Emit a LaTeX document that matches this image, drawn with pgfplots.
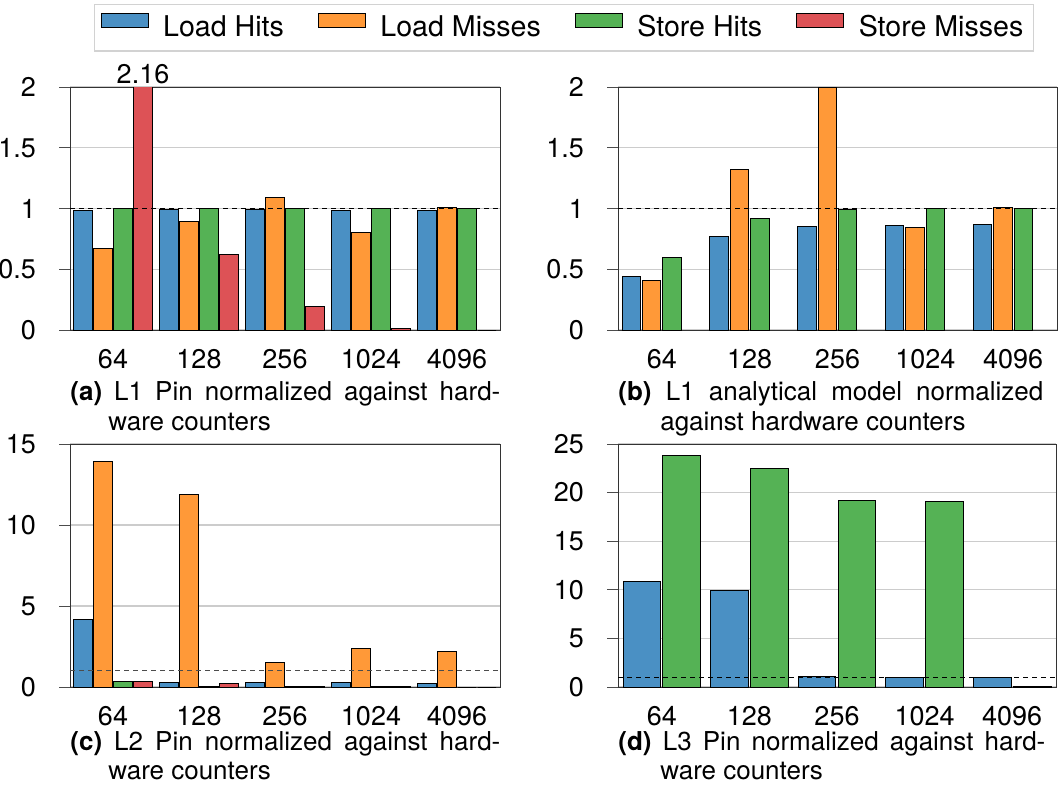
\documentclass[border=0pt]{standalone}
\usepackage{fontspec}
\setmainfont{TeX Gyre Heros}
\usepackage{pgfplots}
\pgfplotsset{compat=1.18}
\definecolor{cblue}{RGB}{74,144,196}
\definecolor{corange}{RGB}{255,153,56}
\definecolor{cgreen}{RGB}{85,178,85}
\definecolor{cred}{RGB}{221,82,86}
\newcommand{\fs}{\fontsize{13}{15.6}\selectfont}
\newcommand{\ts}{\fontsize{13.5}{16}\selectfont}
\pgfplotsset{
  mystyle/.style={
    ybar, scale only axis, height=121.5pt,
    ymin=0, xmin=-0.5, xmax=4.5, enlarge x limits=false, enlarge y limits=false,
    xtick={0,1,2,3,4}, xticklabels={64,128,256,1024,4096},
    axis line style={black!80, line width=0.5pt},
    ymajorgrids, grid style={gray!40, line width=0.6pt},
    ytick pos=left, xtick style={draw=none},
    ytick style={black!70, line width=0.5pt},
    major tick length=5.5pt, tick align=outside,
    tick label style={font=\ts},
    /pgf/number format/assume math mode=true,
    bar width=0.21,
    clip mode=individual,
    every axis plot/.append style={draw=black, line width=0.5pt},
    xticklabel style={yshift=-0.5pt},
    yticklabel style={xshift=-8pt},
  },
}
\begin{document}
\begin{tikzpicture}
\path[use as bounding box] (0,0) rectangle (532pt,-397pt);
% (a)
\begin{axis}[mystyle, at={(35pt,-165pt)}, anchor=south west, width=215pt,
  ymax=2, ytick={0,0.5,1,1.5,2},
  legend columns=4,
  legend image code/.code={\draw[#1] (0pt,0pt) rectangle (23.5pt,7pt); \path[draw=none, fill=none] (23.5pt,0pt) -- (29pt,0pt);},
  legend style={at={(1.1488,1.3416)}, anchor=north, draw=gray!35, line width=0.6pt,
    font=\fontsize{14.3}{17}\selectfont, inner xsep=3pt, inner ysep=3.5pt,
    /tikz/every even column/.append style={column sep=15pt}},
]
\addplot[fill=cblue, bar shift=-0.349] coordinates {(0,0.98) (1,0.99) (2,0.995) (3,0.98) (4,0.98)};
\addplot[fill=corange, bar shift=-0.116] coordinates {(0,0.67) (1,0.89) (2,1.09) (3,0.80) (4,1.005)};
\addplot[fill=cgreen, bar shift=0.116] coordinates {(0,1.0) (1,1.0) (2,1.0) (3,1.0) (4,1.0)};
\addplot[fill=cred, bar shift=0.349] coordinates {(0,2.16) (1,0.625) (2,0.19) (3,0.01) (4,0.0)};
\legend{Load Hits, Load Misses, Store Hits, Store Misses}
\draw[black, dash pattern=on 2.5pt off 2pt, line width=0.6pt] (axis cs:-0.5,1) -- (axis cs:4.5,1);
\node[anchor=south, inner sep=1.5pt, font=\ts] at (axis cs:0.349,2) {2.16};
\end{axis}
% (b)
\begin{axis}[mystyle, at={(309pt,-165pt)}, anchor=south west, width=219.5pt,
  ymax=2, ytick={0,0.5,1,1.5,2}]
\addplot[fill=cblue, bar shift=-0.349] coordinates {(0,0.44) (1,0.77) (2,0.85) (3,0.86) (4,0.87)};
\addplot[fill=corange, bar shift=-0.116] coordinates {(0,0.41) (1,1.32) (2,2.0) (3,0.84) (4,1.005)};
\addplot[fill=cgreen, bar shift=0.116] coordinates {(0,0.60) (1,0.92) (2,0.99) (3,1.0) (4,1.0)};
\draw[black, dash pattern=on 2.5pt off 2pt, line width=0.6pt] (axis cs:-0.5,1) -- (axis cs:4.5,1);
\end{axis}
% (c)
\begin{axis}[mystyle, at={(35pt,-343.5pt)}, anchor=south west, width=215pt,
  ymax=15, ytick={0,5,10,15}]
\addplot[fill=cblue, bar shift=-0.349] coordinates {(0,4.14) (1,0.29) (2,0.25) (3,0.25) (4,0.2)};
\addplot[fill=corange, bar shift=-0.116] coordinates {(0,13.9) (1,11.9) (2,1.5) (3,2.37) (4,2.22)};
\addplot[fill=cgreen, bar shift=0.116] coordinates {(0,0.33) (1,0.02) (2,0.01) (3,0.01) (4,0.0)};
\addplot[fill=cred, bar shift=0.349] coordinates {(0,0.37) (1,0.2) (2,0.01) (3,0.01) (4,0.0)};
\draw[black!70, dash pattern=on 2.5pt off 2pt, line width=0.6pt] (axis cs:-0.5,1) -- (axis cs:4.5,1);
\end{axis}
% (d)
\begin{axis}[mystyle, at={(309pt,-343.5pt)}, anchor=south west, width=219pt,
  ymax=25, ytick={0,5,10,15,20,25}, bar width=0.43]
\addplot[fill=cblue, bar shift=-0.228] coordinates {(0,10.9) (1,9.97) (2,1.13) (3,1.0) (4,0.93)};
\addplot[fill=cgreen, bar shift=0.228] coordinates {(0,23.8) (1,22.5) (2,19.2) (3,19.1) (4,0.1)};
\draw[black, dash pattern=on 2.5pt off 2pt, line width=0.6pt] (axis cs:-0.5,1) -- (axis cs:4.5,1);
\end{axis}
% captions
\node[anchor=base west, inner sep=0, font=\fs] at (35pt,-200pt) {\makebox[215pt][s]{\textbf{(a)} L1 Pin normalized against hard-}};
\node[anchor=base west, inner sep=0, font=\fs] at (54pt,-215pt) {ware counters};
\node[anchor=base west, inner sep=0, font=\fs] at (309pt,-200pt) {\makebox[212.5pt][s]{\textbf{(b)} L1 analytical model normalized}};
\node[anchor=base west, inner sep=0, font=\fs] at (330pt,-215pt) {against hardware counters};
\node[anchor=base west, inner sep=0, font=\fs] at (35pt,-375pt) {\makebox[215pt][s]{\textbf{(c)} L2 Pin normalized against hard-}};
\node[anchor=base west, inner sep=0, font=\fs] at (54pt,-389.5pt) {ware counters};
\node[anchor=base west, inner sep=0, font=\fs] at (309pt,-375pt) {\makebox[213.5pt][s]{\textbf{(d)} L3 Pin normalized against hard-}};
\node[anchor=base west, inner sep=0, font=\fs] at (330pt,-389.5pt) {ware counters};
\end{tikzpicture}
\end{document}
